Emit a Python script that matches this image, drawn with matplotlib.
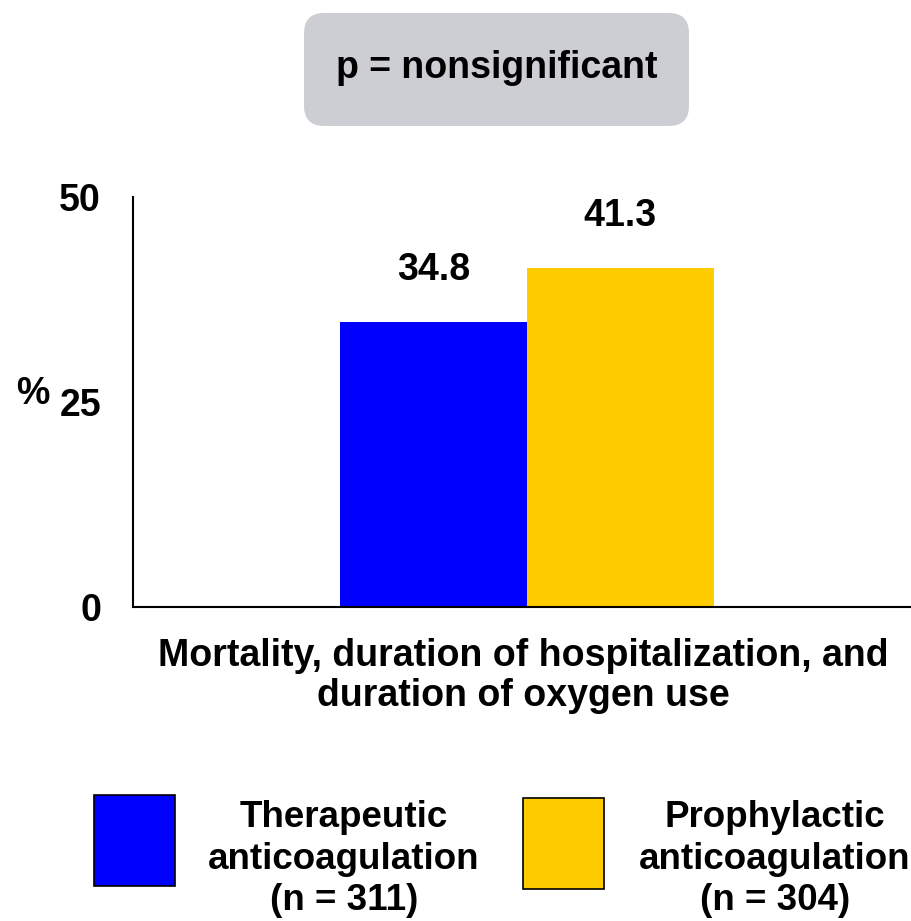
import matplotlib
matplotlib.use("Agg")
import matplotlib.pyplot as plt
from matplotlib.patches import FancyBboxPatch, Rectangle
from matplotlib import font_manager

plt.rcParams['font.family'] = ['Liberation Sans', 'DejaVu Sans']

groups = ["Therapeutic\nanticoagulation\n(n = 311)", "Prophylactic\nanticoagulation\n(n = 304)"]
values = [34.8, 41.3]
colors = ["#0000FF", "#FFCC00"]
category = "Mortality, duration of hospitalization, and\nduration of oxygen use"
yticks = [0, 25, 50]
pvalue_text = "p = nonsignificant"

FS = 27

fig = plt.figure(figsize=(9.12, 9.21), dpi=100)
ax = fig.add_axes([133/912, 314/921, 779/912, 410/921])

w = 0.4
xs = [-w/2, w/2]
bars = ax.bar(xs, values, width=w, color=colors, edgecolor='none')
for x, v in zip(xs, values):
    ax.annotate(f"{v}", (x, v), xytext=(0, 37.5), textcoords='offset points',
                ha='center', va='center', fontsize=FS, fontweight='bold')

ax.set_xlim(-0.843, 0.824)
ax.set_ylim(0, 50)
ax.set_yticks(yticks)
ax.set_yticklabels([str(t) for t in yticks], fontsize=FS, fontweight='bold')
ax.tick_params(axis='y', length=0, pad=23)
ax.set_xticks([])
for s in ['top', 'right']:
    ax.spines[s].set_visible(False)
for s in ['left', 'bottom']:
    ax.spines[s].set_linewidth(1.5)

fig.text(33/912, 1 - 394/921, "%", ha='center', va='center', fontsize=FS, fontweight='bold')

fig.text(523/912, 1 - 676/921, category, ha='center', va='center', fontsize=FS,
         fontweight='bold', linespacing=1.15)

# p-value box
box = FancyBboxPatch((304/912, 1 - 126/921), 385/912, 113/921,
                     boxstyle="round,pad=0,rounding_size=0.022",
                     transform=fig.transFigure, facecolor='#CDCED3', edgecolor='none')
fig.patches.append(box)
fig.text(497/912, 1 - 68/921, pvalue_text, ha='center', va='center', fontsize=FS, fontweight='bold')

# legend
narrow = [f.name for f in font_manager.fontManager.ttflist if 'Narrow' in f.name]
leg_family = ['Liberation Sans Narrow', 'Liberation Sans'] if narrow else ['Liberation Sans']
sq = [(94, 795), (523, 798)]
tx = [344, 775]
for (sx, sy), c, t, g in zip(sq, colors, tx, groups):
    r = Rectangle((sx/912, 1 - (sy + 91)/921), 81/912, 91/921, transform=fig.transFigure,
                  facecolor=c, edgecolor='black', linewidth=1.2)
    fig.patches.append(r)
    fig.text(t/912, 1 - 859/921, g, ha='center', va='center', fontsize=26.5, fontweight='bold',
             family=leg_family, linespacing=1.25)

fig.savefig("out.png", dpi=100)
